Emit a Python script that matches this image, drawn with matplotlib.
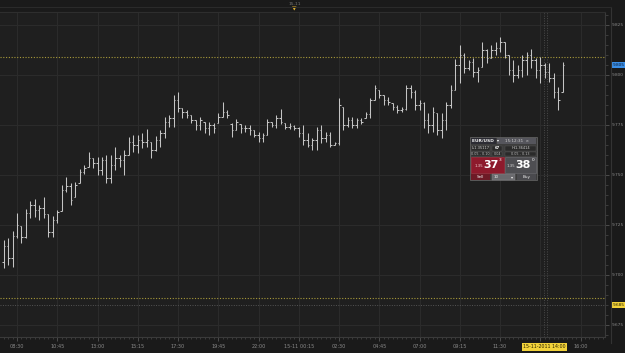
import numpy as np
import matplotlib
matplotlib.use("Agg")
import matplotlib.pyplot as plt
from matplotlib.patches import Rectangle, Polygon
from matplotlib.ticker import FixedLocator, MultipleLocator

# ---------------- data (EUR/USD-like 15-minute OHLC bars) ----------------
bar_minutes = 15
first_bar_min = -45          # minutes relative to 14-11 08:30 (first bar 07:45)

highs = [9.7175, 9.7185, 9.7220, 9.7310, 9.7245, 9.7330, 9.7370, 9.7380, 9.7350, 9.7390,
         9.7305, 9.7295, 9.7325, 9.7450, 9.7490, 9.7460, 9.7465, 9.7530, 9.7550, 9.7615,
         9.7585, 9.7590, 9.7590, 9.7600, 9.7600, 9.7640, 9.7600, 9.7625, 9.7690, 9.7700,
         9.7700, 9.7710, 9.7730, 9.7665, 9.7695, 9.7725, 9.7790, 9.7800, 9.7900, 9.7915,
         9.7835, 9.7825, 9.7800, 9.7775, 9.7790, 9.7765, 9.7765, 9.7760, 9.7810, 9.7865,
         9.7825, 9.7760, 9.7780, 9.7755, 9.7750, 9.7750, 9.7725, 9.7715, 9.7710, 9.7780,
         9.7765, 9.7800, 9.7830, 9.7760, 9.7760, 9.7750, 9.7740, 9.7750, 9.7710, 9.7685,
         9.7740, 9.7750, 9.7715, 9.7715, 9.7665, 9.7885, 9.7840, 9.7790, 9.7790, 9.7785,
         9.7785, 9.7815, 9.7885, 9.7950, 9.7925, 9.7900, 9.7890, 9.7860, 9.7850, 9.7840,
         9.7950, 9.7950, 9.7925, 9.7875, 9.7865, 9.7810, 9.7840, 9.7810, 9.7810, 9.7865,
         9.7950, 9.8080, 9.8150, 9.8110, 9.8075, 9.8085, 9.8040, 9.8165, 9.8130, 9.8150,
         9.8165, 9.8190, 9.8165, 9.8100, 9.8075, 9.8050, 9.8100, 9.8115, 9.8130, 9.8085,
         9.8090, 9.8060, 9.8060, 9.8010, 9.7940, 9.8065]

lows = [9.7035, 9.7050, 9.7040, 9.7185, 9.7160, 9.7185, 9.7285, 9.7290, 9.7275, 9.7285,
        9.7190, 9.7190, 9.7260, 9.7320, 9.7415, 9.7350, 9.7390, 9.7460, 9.7505, 9.7540,
        9.7535, 9.7500, 9.7500, 9.7460, 9.7460, 9.7525, 9.7540, 9.7500, 9.7600, 9.7615,
        9.7610, 9.7635, 9.7640, 9.7585, 9.7620, 9.7640, 9.7685, 9.7740, 9.7740, 9.7815,
        9.7785, 9.7785, 9.7760, 9.7725, 9.7725, 9.7710, 9.7700, 9.7710, 9.7760, 9.7790,
        9.7785, 9.7690, 9.7725, 9.7710, 9.7715, 9.7700, 9.7690, 9.7665, 9.7665, 9.7700,
        9.7740, 9.7735, 9.7755, 9.7730, 9.7730, 9.7725, 9.7690, 9.7650, 9.7640, 9.7625,
        9.7625, 9.7660, 9.7665, 9.7640, 9.7650, 9.7650, 9.7725, 9.7740, 9.7735, 9.7735,
        9.7755, 9.7785, 9.7785, 9.7875, 9.7885, 9.7850, 9.7850, 9.7825, 9.7810, 9.7815,
        9.7825, 9.7885, 9.7825, 9.7825, 9.7735, 9.7710, 9.7715, 9.7700, 9.7685, 9.7725,
        9.7835, 9.7925, 9.7960, 9.8010, 9.8025, 9.7990, 9.7965, 9.8040, 9.8060, 9.8085,
        9.8100, 9.8115, 9.8085, 9.8000, 9.7965, 9.7985, 9.7990, 9.8000, 9.8035, 9.7985,
        9.7960, 9.7985, 9.7965, 9.7885, 9.7825, 9.7915]

opens = [9.7065, 9.7145, 9.7085, 9.7195, 9.7245, 9.7190, 9.7310, 9.7350, 9.7325, 9.7335,
         9.7305, 9.7215, 9.7275, 9.7315, 9.7425, 9.7445, 9.7375, 9.7450, 9.7515, 9.7535,
         9.7585, 9.7560, 9.7525, 9.7575, 9.7485, 9.7550, 9.7585, 9.7575, 9.7600, 9.7665,
         9.7650, 9.7675, 9.7665, 9.7665, 9.7625, 9.7675, 9.7710, 9.7765, 9.7785, 9.7875,
         9.7835, 9.7815, 9.7800, 9.7775, 9.7750, 9.7765, 9.7735, 9.7750, 9.7760, 9.7790,
         9.7815, 9.7755, 9.7725, 9.7755, 9.7735, 9.7735, 9.7725, 9.7700, 9.7685, 9.7700,
         9.7765, 9.7750, 9.7785, 9.7760, 9.7740, 9.7745, 9.7735, 9.7710, 9.7675, 9.7650,
         9.7675, 9.7725, 9.7685, 9.7700, 9.7650, 9.7660, 9.7840, 9.7750, 9.7775, 9.7750,
         9.7775, 9.7785, 9.7805, 9.7875, 9.7925, 9.7900, 9.7875, 9.7860, 9.7840, 9.7825,
         9.7830, 9.7935, 9.7915, 9.7850, 9.7860, 9.7775, 9.7750, 9.7810, 9.7725, 9.7775,
         9.7850, 9.7925, 9.8050, 9.8100, 9.8035, 9.8065, 9.8015, 9.8040, 9.8125, 9.8085,
         9.8125, 9.8135, 9.8165, 9.8100, 9.8025, 9.8000, 9.8025, 9.8075, 9.8100, 9.8075,
         9.8025, 9.8050, 9.8015, 9.7985, 9.7915, 9.7915]

closes = [9.7145, 9.7085, 9.7195, 9.7250, 9.7190, 9.7310, 9.7350, 9.7325, 9.7335, 9.7305,
          9.7215, 9.7275, 9.7315, 9.7425, 9.7445, 9.7375, 9.7450, 9.7515, 9.7535, 9.7585,
          9.7560, 9.7525, 9.7575, 9.7485, 9.7550, 9.7585, 9.7575, 9.7600, 9.7665, 9.7650,
          9.7675, 9.7665, 9.7675, 9.7625, 9.7675, 9.7710, 9.7765, 9.7785, 9.7875, 9.7835,
          9.7815, 9.7800, 9.7775, 9.7750, 9.7775, 9.7735, 9.7750, 9.7735, 9.7790, 9.7815,
          9.7800, 9.7725, 9.7765, 9.7735, 9.7735, 9.7725, 9.7700, 9.7685, 9.7700, 9.7765,
          9.7750, 9.7785, 9.7765, 9.7740, 9.7745, 9.7735, 9.7710, 9.7675, 9.7650, 9.7675,
          9.7725, 9.7685, 9.7700, 9.7650, 9.7660, 9.7850, 9.7750, 9.7775, 9.7750, 9.7775,
          9.7765, 9.7805, 9.7875, 9.7935, 9.7900, 9.7875, 9.7865, 9.7840, 9.7825, 9.7830,
          9.7935, 9.7915, 9.7850, 9.7860, 9.7775, 9.7750, 9.7815, 9.7725, 9.7775, 9.7850,
          9.7925, 9.8050, 9.8100, 9.8035, 9.8065, 9.8015, 9.8025, 9.8125, 9.8085, 9.8125,
          9.8135, 9.8165, 9.8100, 9.8025, 9.8000, 9.8025, 9.8075, 9.8100, 9.8075, 9.8025,
          9.8050, 9.8015, 9.7985, 9.7915, 9.7875, 9.8050]

x_tick_labels = ["08:30", "10:45", "13:00", "15:15", "17:30", "19:45", "22:00",
                 "15-11 00:15", "02:30", "04:45", "07:00", "09:15", "11:30", "", "16:00"]
x_tick_step = 135            # minutes between labelled ticks
y_ticks = [9.675, 9.700, 9.725, 9.750, 9.775, 9.800, 9.825]

upper_level = 9.809          # yellow dotted line
lower_level = 9.6885         # yellow dotted line
marker_level = 9.685         # yellow price tag
last_price = 9.805           # blue price tag
cursor_min = 1770            # 15-11-2011 14:00
cursor_label = "15-11-2011 14:00"
day_break_min = 930          # 15-11 00:00
day_break_label = "15-11"

# ---------------- figure ----------------
W, H = 625, 353
fig = plt.figure(figsize=(W / 100, H / 100), dpi=100, facecolor="#1a1a1a")

def fx(px):
    return px / W

def fy(py):
    return 1 - py / H

ax_left, ax_right, ax_top, ax_bottom = 0, 605, 12, 337
ax = fig.add_axes([fx(ax_left), fy(ax_bottom), fx(ax_right - ax_left), (ax_bottom - ax_top) / H])
ax.set_facecolor("#1f1f1f")

n = len(highs)
t = first_bar_min + bar_minutes * np.arange(n)
opens_c = np.clip(opens, lows, highs)
closes_c = np.clip(closes, lows, highs)

bar_color = "#c4c4c4"
tick_w = 5
ax.vlines(t, lows, highs, colors=bar_color, lw=0.75)
ax.hlines(opens_c, t - tick_w, t, colors=bar_color, lw=0.75)
ax.hlines(closes_c, t, t + tick_w, colors=bar_color, lw=0.75)

ax.set_xlim(-57, 1972)
ax.set_ylim(9.669, 9.8315)

# grid
major_x = [x_tick_step * i for i in range(len(x_tick_labels))]
for xv in major_x:
    ax.axvline(xv, color="#2b2b2b", lw=0.8, zorder=0)
for yv in y_ticks:
    ax.axhline(yv, color="#2b2b2b", lw=0.8, zorder=0)

# reference lines
ax.axhline(upper_level, color="#a89a3a", lw=0.8, ls=(0, (1, 1.5)), zorder=1)
ax.axhline(lower_level, color="#a89a3a", lw=0.8, ls=(0, (1, 1.5)), zorder=1)
ax.axhline(marker_level, color="#555555", lw=0.7, ls=(0, (1, 1.5)), zorder=1)
ax.axvline(cursor_min - 4, color="#4a4a4a", lw=0.7, ls=(0, (1, 1.5)), zorder=1)
ax.axvline(cursor_min + 9, color="#4a4a4a", lw=0.7, ls=(0, (1, 1.5)), zorder=1)

# x axis ticks
ax.xaxis.set_major_locator(FixedLocator(major_x))
ax.set_xticklabels(x_tick_labels)
ax.xaxis.set_minor_locator(MultipleLocator(15))
ax.tick_params(axis="x", which="major", colors="#555555", labelcolor="#8a8a8a",
               labelsize=3.6, length=3, width=0.6, pad=2, direction="out")
ax.tick_params(axis="x", which="minor", colors="#4a4a4a", length=1.5, width=0.5)

# y axis on right
ax.yaxis.tick_right()
ax.set_yticks(y_ticks)
ax.set_yticklabels([f"{v:.3f}" for v in y_ticks])
ax.yaxis.set_minor_locator(MultipleLocator(0.005))
ax.tick_params(axis="y", which="major", colors="#555555", labelcolor="#8a8a8a",
               labelsize=3.1, length=3, width=0.6, pad=1.5, direction="out")
ax.tick_params(axis="y", which="minor", colors="#4a4a4a", length=1.8, width=0.5)

for s in ax.spines.values():
    s.set_color("#3a3a3a")
    s.set_linewidth(0.8)
ax.spines["left"].set_visible(False)
ax.spines["top"].set_color("#2e2e2e")

# outer right frame line
fig.add_artist(plt.Line2D([fx(611), fx(611)], [fy(7), fy(343)], color="#333333", lw=0.8,
                          transform=fig.transFigure))
fig.add_artist(plt.Line2D([fx(0), fx(611)], [fy(7), fy(7)], color="#2a2a2a", lw=0.8,
                          transform=fig.transFigure))

# price tags on the right
def price_tag(price, text, face, tcolor):
    ax.annotate(text, xy=(1.0, price), xycoords=("axes fraction", "data"),
                xytext=(9.6, 0), textcoords="offset points", ha="center", va="center",
                fontsize=3.1, color=tcolor,
                bbox=dict(boxstyle="square,pad=0.2", fc=face, ec="none"),
                annotation_clip=False)

price_tag(last_price, f"{last_price:.3f}", "#3a8ee6", "#0a1a30")
price_tag(marker_level, f"{marker_level:.3f}", "#f2d23a", "#2a2200")

# cursor time tag on bottom axis
ax.annotate(cursor_label, xy=(cursor_min, 0), xycoords=("data", "axes fraction"),
            xytext=(0, -7.2), textcoords="offset points", ha="center", va="center",
            fontsize=3.4, color="#2a2200",
            bbox=dict(boxstyle="square,pad=0.25", fc="#f2d23a", ec="none"),
            annotation_clip=False)

# day break marker on top
ax.annotate(day_break_label, xy=(day_break_min, 1.0), xycoords=("data", "axes fraction"),
            xytext=(0, 5.8), textcoords="offset points", ha="center", va="center",
            fontsize=3.1, color="#777777", annotation_clip=False)
mx = 17 + day_break_min * 40.25 / 135
fig.add_artist(Polygon([[fx(mx - 2.2), fy(6.5)], [fx(mx + 2.2), fy(6.5)], [fx(mx), fy(10.5)]],
                       closed=True, fc="#e8b830", ec="none", transform=fig.transFigure))

# ---------------- trading widget ----------------
def rect(x0, y0, x1, y1, fc, ec="none", lw=0.5, z=5):
    fig.add_artist(Rectangle((fx(x0), fy(y1)), fx(x1 - x0), (y1 - y0) / H, fc=fc, ec=ec,
                             lw=lw, transform=fig.transFigure, zorder=z))

def txt(x, y, s, size, color, ha="left", weight="normal", z=6):
    fig.text(fx(x), fy(y), s, fontsize=size, color=color, ha=ha, va="center",
             fontweight=weight, zorder=z)

rect(470, 137, 537, 180, "#3c3c3c", ec="#6a6a6a", lw=0.5)
rect(471, 138, 496, 144.5, "#2c2c34")
rect(497, 138, 536, 144.5, "#55555c")
txt(472.5, 141.3, "EUR/USD  \u25be", 3.2, "#f0f0f0", weight="bold")
txt(517, 141.3, "15:12:31  \u00d7", 3.0, "#cfcfcf", ha="center")
rect(471, 145.5, 490, 150.5, "#2a2a2a", ec="#555555", lw=0.3)
rect(492, 145.5, 502, 150.5, "#2a2a2a", ec="#555555", lw=0.3)
rect(505, 145.5, 536, 150.5, "#2a2a2a", ec="#555555", lw=0.3)
txt(480.5, 148, "L:1.35117", 2.6, "#cfcfcf", ha="center")
txt(497, 148, "67", 2.6, "#ffffff", ha="center", weight="bold")
txt(520.5, 148, "H:1.36414", 2.6, "#cfcfcf", ha="center")
rect(471, 151.5, 490, 156, "#2a2a2a", ec="#555555", lw=0.3)
rect(492, 151.5, 502, 156, "#2a2a2a", ec="#555555", lw=0.3)
rect(505, 151.5, 536, 156, "#2a2a2a", ec="#555555", lw=0.3)
txt(480.5, 153.8, "0.05 - 0.10", 2.4, "#bdbdbd", ha="center")
txt(497, 153.8, "0.04", 2.4, "#bdbdbd", ha="center")
txt(520.5, 153.8, "0.05 - 0.13", 2.4, "#bdbdbd", ha="center")
# sell / buy buttons
rect(471, 157, 503.5, 173, "#8e1a2c", ec="#b03040", lw=0.4)
rect(504.5, 157, 536, 173, "#4e4e52", ec="#707074", lw=0.4)
txt(474.5, 166, "1.35", 2.8, "#f0d0d0")
txt(483, 164.8, "37", 8.0, "#ffffff", weight="bold")
txt(498.8, 160, "3", 3.2, "#ffffff")
txt(507, 166, "1.35", 2.8, "#d8d8d8")
txt(515.5, 164.8, "38", 8.0, "#ffffff", weight="bold")
txt(531.3, 160, "0", 3.2, "#ffffff")
# bottom row
rect(471, 174, 490, 179.5, "#6e1a26")
txt(480.5, 176.8, "Sell", 3.0, "#f0f0f0", ha="center")
rect(491.5, 174, 515, 179.5, "#6a6a6e", ec="#8a8a8e", lw=0.3)
txt(494, 176.8, "10", 3.0, "#f0f0f0")
txt(512, 176.8, "\u25be", 3.0, "#f0f0f0", ha="center")
rect(517, 174, 536, 179.5, "#4a4a4e")
txt(526.5, 176.8, "Buy", 3.0, "#f0f0f0", ha="center")

fig.savefig("out.png", dpi=100, facecolor=fig.get_facecolor())
